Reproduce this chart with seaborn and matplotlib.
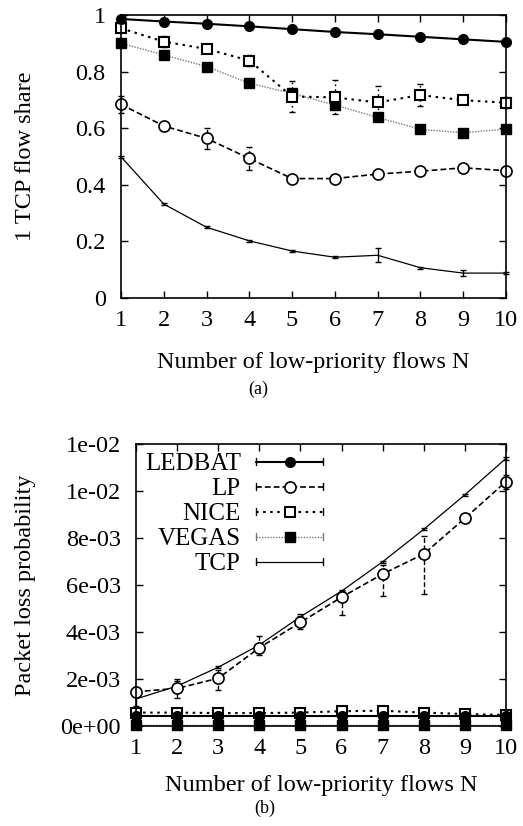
import numpy as np
import pandas as pd
import matplotlib
matplotlib.use("Agg")
import matplotlib.pyplot as plt
import seaborn as sns
from matplotlib.lines import Line2D
from matplotlib.legend_handler import HandlerBase

# ---------------- data ----------------
N = [1, 2, 3, 4, 5, 6, 7, 8, 9, 10]
series_names = ["LEDBAT", "LP", "NICE", "VEGAS", "TCP"]

# (a) 1 TCP flow share
share_ledbat = [0.986, 0.977, 0.969, 0.960, 0.950, 0.940, 0.932, 0.923, 0.914, 0.905]
share_lp = [0.684, 0.608, 0.564, 0.493, 0.422, 0.422, 0.438, 0.448, 0.460, 0.450]
share_nice = [0.953, 0.906, 0.880, 0.839, 0.712, 0.709, 0.691, 0.717, 0.699, 0.690]
share_vegas = [0.900, 0.859, 0.818, 0.759, 0.723, 0.682, 0.638, 0.596, 0.584, 0.597]
share_tcp = [0.499, 0.332, 0.250, 0.202, 0.166, 0.144, 0.151, 0.107, 0.088, 0.088]

share_err_ledbat = [0.003] * 10
share_err_lp = [0.03, 0.01, 0.038, 0.04, 0.01, 0.01, 0.01, 0.01, 0.01, 0.01]
share_err_nice = [0.01, 0.02, 0.015, 0.018, 0.055, 0.06, 0.058, 0.04, 0.01, 0.02]
share_err_vegas = [0.01, 0.01, 0.01, 0.01, 0.01, 0.01, 0.01, 0.01, 0.01, 0.01]
share_err_tcp = [0.003, 0.003, 0.003, 0.003, 0.003, 0.003, 0.025, 0.004, 0.012, 0.003]

# (b) Packet loss probability
loss_ledbat = [0.43e-3] * 10
loss_lp = [1.46e-3, 1.60e-3, 2.03e-3, 3.33e-3, 4.41e-3, 5.48e-3, 6.47e-3, 7.32e-3, 8.84e-3, 10.40e-3]
loss_nice = [0.57e-3, 0.57e-3, 0.55e-3, 0.55e-3, 0.57e-3, 0.63e-3, 0.65e-3, 0.57e-3, 0.51e-3, 0.47e-3]
loss_vegas = [0.03e-3] * 10
loss_tcp = [1.15e-3, 1.70e-3, 2.50e-3, 3.45e-3, 4.65e-3, 5.74e-3, 6.99e-3, 8.37e-3, 9.84e-3, 11.39e-3]

loss_err_lp_lo = [0.2e-3, 0.4e-3, 0.5e-3, 0.3e-3, 0.3e-3, 0.75e-3, 0.95e-3, 1.7e-3, 0.1e-3, 0.3e-3]
loss_err_lp_hi = [0.2e-3, 0.4e-3, 0.35e-3, 0.5e-3, 0.35e-3, 0.25e-3, 0.4e-3, 0.75e-3, 0.1e-3, 0.3e-3]
loss_err_nice = [0.03e-3] * 5 + [0.06e-3, 0.06e-3] + [0.03e-3] * 3
loss_err_ledbat = [0.02e-3] * 10
loss_err_vegas = [0.02e-3] * 10
loss_err_tcp = [0.3e-3, 0.2e-3, 0.05e-3, 0.05e-3, 0.05e-3, 0.05e-3, 0.05e-3, 0.05e-3, 0.05e-3, 0.05e-3]

share_yticks = [0, 0.2, 0.4, 0.6, 0.8, 1.0]
share_yticklabels = ["0", "0.2", "0.4", "0.6", "0.8", "1"]
loss_yticks = [0, 0.002, 0.004, 0.006, 0.008, 0.010, 0.012]
loss_yticklabels = ["0e+00", "2e-03", "4e-03", "6e-03", "8e-03", "1e-02", "1e-02"]
xticklabels = [str(n) for n in N]

xlabel = "Number of low-priority flows N"
ylabel_a = "1 TCP flow share"
ylabel_b = "Packet loss probability"

# ---------------- styles ----------------
sns.set_style("ticks")
plt.rcParams["font.family"] = ["Liberation Serif", "DejaVu Serif"]
plt.rcParams["text.color"] = "black"
plt.rcParams["axes.labelcolor"] = "black"
plt.rcParams["xtick.color"] = "black"
plt.rcParams["ytick.color"] = "black"
FS = 17.5

styles = {
    "LEDBAT": dict(color="black", linestyle="-", linewidth=1.5, marker="o", markersize=7,
                   markerfacecolor="black", markeredgecolor="black", markeredgewidth=1.0),
    "LP": dict(color="black", linestyle=(0, (3.5, 1.8)), linewidth=1.2, marker="o", markersize=8,
               markerfacecolor="white", markeredgecolor="black", markeredgewidth=1.2),
    "NICE": dict(color="black", linestyle=(0, (1.2, 2.2)), linewidth=1.5, marker="s", markersize=7.5,
                 markerfacecolor="white", markeredgecolor="black", markeredgewidth=1.5),
    "VEGAS": dict(color="#777777", linestyle=(0, (1, 1)), linewidth=1.0, marker="s", markersize=7.5,
                  markerfacecolor="black", markeredgecolor="black", markeredgewidth=1.0),
    "TCP": dict(color="black", linestyle="-", linewidth=0.9, marker=None),
}

fig = plt.figure(figsize=(5.23, 8.26), dpi=100)
ax_a = fig.add_axes([121 / 523, 1 - 298 / 826, 385 / 523, 283 / 826])
ax_b = fig.add_axes([136 / 523, 1 - 726 / 826, 370 / 523, 282 / 826])


def draw(ax, name, y, ylo, yhi):
    st = styles[name]
    df = pd.DataFrame({"N": N, "v": y})
    kws = {k: v for k, v in st.items() if k != "marker" or v is not None}
    sns.lineplot(data=df, x="N", y="v", ax=ax, legend=False, **kws)
    cont = ax.errorbar(N, y, yerr=[ylo, yhi], fmt="none", ecolor=st["color"] if name != "VEGAS" else "#555555",
                       elinewidth=1.0, capsize=2.5, capthick=1.0, zorder=1)
    for lc in cont[2]:
        lc.set_linestyle(st["linestyle"] if name in ("LP", "NICE") else "-")


share = {"LEDBAT": (share_ledbat, share_err_ledbat, share_err_ledbat),
         "LP": (share_lp, share_err_lp, share_err_lp),
         "NICE": (share_nice, share_err_nice, share_err_nice),
         "VEGAS": (share_vegas, share_err_vegas, share_err_vegas),
         "TCP": (share_tcp, share_err_tcp, share_err_tcp)}
loss = {"LEDBAT": (loss_ledbat, loss_err_ledbat, loss_err_ledbat),
        "LP": (loss_lp, loss_err_lp_lo, loss_err_lp_hi),
        "NICE": (loss_nice, loss_err_nice, loss_err_nice),
        "VEGAS": (loss_vegas, loss_err_vegas, loss_err_vegas),
        "TCP": (loss_tcp, loss_err_tcp, loss_err_tcp)}

for name in ["TCP", "VEGAS", "LP", "NICE", "LEDBAT"]:
    draw(ax_a, name, *share[name])
for name in ["TCP", "VEGAS", "LP", "NICE", "LEDBAT"]:
    draw(ax_b, name, *loss[name])

for ax, yt, ytl in [(ax_a, share_yticks, share_yticklabels), (ax_b, loss_yticks, loss_yticklabels)]:
    ax.set_xlim(1, 10)
    ax.set_ylim(yt[0], yt[-1])
    ax.set_xticks(N)
    ax.set_xticklabels(xticklabels)
    ax.set_yticks(yt)
    ax.set_yticklabels(ytl)
    ax.tick_params(axis="both", which="both", direction="in", top=True, right=True,
                   length=5, width=1.0, color="black", labelsize=FS, labelcolor="black")
    ax.tick_params(axis="y", pad=11)
    ax.tick_params(axis="x", pad=8.5)
    for sp in ax.spines.values():
        sp.set_visible(True)
        sp.set_color("black")
        sp.set_linewidth(1.2)
    ax.set_xlabel(xlabel, fontsize=FS, color="black")
    ax.grid(False)
    for lab in ax.get_xticklabels() + ax.get_yticklabels():
        lab.set_clip_on(False)
    for art in ax.lines + ax.collections:
        art.set_clip_on(False)

ax_a.set_ylabel(ylabel_a, fontsize=FS, color="black")
ax_b.set_ylabel(ylabel_b, fontsize=FS, color="black")
ax_a.yaxis.set_label_coords(-0.22, 0.5)
ax_b.yaxis.set_label_coords(-0.27, 0.5)
ax_a.xaxis.set_label_coords(0.5, -0.19)
ax_b.xaxis.set_label_coords(0.5, -0.175)

fig.text(258 / 523, 1 - 389 / 826, "(a)", fontsize=13, ha="center", va="center", color="black")
fig.text(265 / 523, 1 - 808 / 826, "(b)", fontsize=13, ha="center", va="center", color="black")


# ---------------- gnuplot style legend ----------------
class GPHandler(HandlerBase):
    def create_artists(self, legend, orig_handle, xdescent, ydescent, width, height, fontsize, trans):
        y = height / 2.0 - ydescent
        x0 = -xdescent
        x1 = -xdescent + width
        line = Line2D([x0, x1], [y, y])
        line.update_from(orig_handle)
        line.set_marker("None")
        c = orig_handle.get_color()
        cap1 = Line2D([x0, x0], [y - 2.5, y + 2.5], color=c, linewidth=1.0)
        cap2 = Line2D([x1, x1], [y - 2.5, y + 2.5], color=c, linewidth=1.0)
        mk = Line2D([(x0 + x1) / 2.0], [y])
        mk.update_from(orig_handle)
        mk.set_linestyle("None")
        arts = [line, cap1, cap2, mk]
        for a in arts:
            a.set_transform(trans)
        return arts


proxies = []
for name in series_names:
    st = dict(styles[name])
    if st.get("marker") is None:
        st["marker"] = "None"
    proxies.append(Line2D([], [], **st))

hmap = {p: GPHandler() for p in proxies}
leg = ax_b.legend(proxies, series_names, handler_map=hmap, loc="upper left",
                  bbox_to_anchor=(0.0, 1.0), frameon=False, markerfirst=False,
                  fontsize=FS + 0.5, handlelength=2.7, handletextpad=0.6, labelspacing=0.1,
                  borderaxespad=0.15, borderpad=0.2)
for t in leg.get_texts():
    t.set_color("black")

fig.savefig("out.png", dpi=100)
